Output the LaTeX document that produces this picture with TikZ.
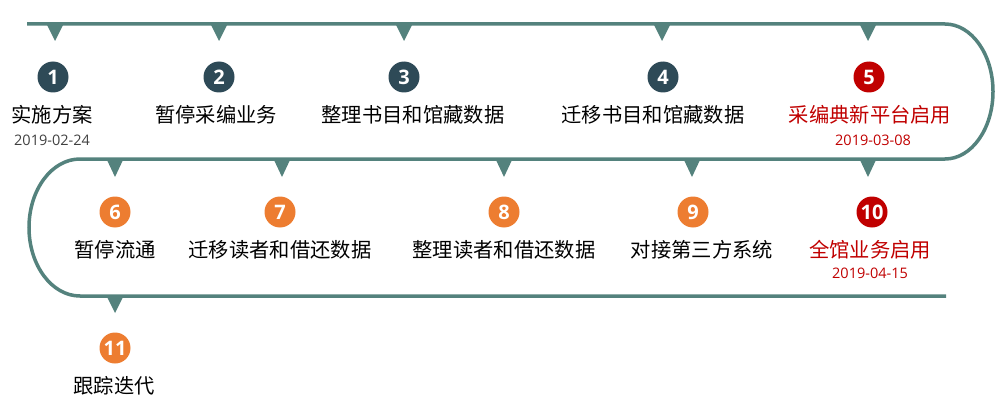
\documentclass[tikz,border=0pt]{standalone}
\usepackage{fontspec}
\setmainfont{Noto Sans CJK SC}
\newfontfamily\numfont{Open Sans}
\newfontfamily\datefont{Open Sans}
\definecolor{linec}{RGB}{84,130,125}
\definecolor{darkc}{RGB}{46,74,87}
\definecolor{redc}{RGB}{192,0,0}
\definecolor{orangec}{RGB}{237,125,49}
\definecolor{datec}{RGB}{64,64,64}
\begin{document}
\begin{tikzpicture}[x=1pt,y=1pt,
  stepnum/.style={circle,minimum size=31pt,inner sep=0pt,text=white,font=\numfont\bfseries\fontsize{20}{20}\selectfont},
  steplabel/.style={inner sep=0pt,font=\fontsize{20.3}{21}\selectfont},
  stepdate/.style={inner sep=0pt,text=datec,font=\datefont\fontsize{14.5}{15}\selectfont},
  tri/.style={fill=linec}]
\useasboundingbox (0,0) rectangle (999,-404);
% track
\draw[linec,line width=3.5pt] (27,-24) -- (945,-24)
  arc[start angle=90,end angle=-90,x radius=48,y radius=67.5]
  -- (80,-159)
  arc[start angle=90,end angle=270,x radius=51,y radius=68.5]
  -- (946,-296);
% triangles
\foreach \x in {55,219,404,662,868}
  \fill[tri] (\x-8,-25) -- (\x+8,-25) -- (\x,-41) -- cycle;
\foreach \x in {115,282,504,692,868}
  \fill[tri] (\x-8,-160) -- (\x+8,-160) -- (\x,-177) -- cycle;
\fill[tri] (107,-297) -- (123,-297) -- (115,-313) -- cycle;
% row 1
\node[stepnum,fill=darkc] (n1) at (53,-77) {1};
\node[stepnum,fill=darkc] (n2) at (219,-77) {2};
\node[stepnum,fill=darkc] (n3) at (404,-77) {3};
\node[stepnum,fill=darkc] (n4) at (663,-77) {4};
\node[stepnum,fill=redc] (n5) at (869,-77) {5};
\node[steplabel] (l1) at (52,-115) {实施方案};
\node[steplabel] (l2) at (216,-115) {暂停采编业务};
\node[steplabel] (l3) at (413,-115) {整理书目和馆藏数据};
\node[steplabel] (l4) at (653,-115) {迁移书目和馆藏数据};
\node[steplabel,text=redc] (l5) at (870,-115) {采编典新平台启用};
\node[stepdate] (d1) at (52,-140) {2019-02-24};
\node[stepdate,text=redc] (d5) at (873,-140) {2019-03-08};
% row 2
\node[stepnum,fill=orangec] (n6) at (115,-212) {6};
\node[stepnum,fill=orangec] (n7) at (280,-212) {7};
\node[stepnum,fill=orangec] (n8) at (504,-212) {8};
\node[stepnum,fill=orangec] (n9) at (693,-212) {9};
\node[stepnum,fill=redc] (n10) at (872,-212) {10};
\node[steplabel] (l6) at (115,-250) {暂停流通};
\node[steplabel] (l7) at (280,-250) {迁移读者和借还数据};
\node[steplabel] (l8) at (504,-250) {整理读者和借还数据};
\node[steplabel] (l9) at (702,-250) {对接第三方系统};
\node[steplabel,text=redc] (l10) at (870,-250) {全馆业务启用};
\node[stepdate,text=redc] (d10) at (870,-273) {2019-04-15};
% row 3
\node[stepnum,fill=orangec] (n11) at (115,-348) {11};
\node[steplabel] (l11) at (114,-386) {跟踪迭代};
\end{tikzpicture}
\end{document}
